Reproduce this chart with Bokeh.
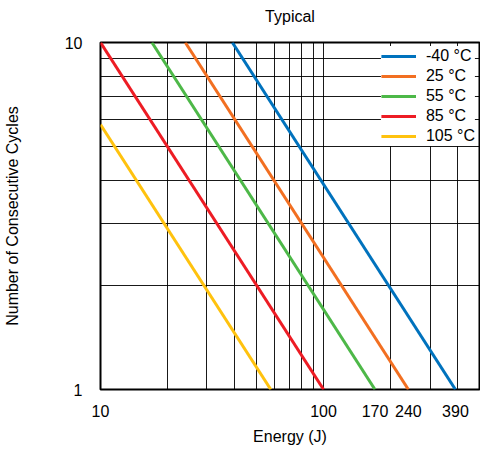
from bokeh.plotting import figure
from bokeh.models import FixedTicker, BasicTickFormatter, Legend, LegendItem, LogAxis
from bokeh.embed import file_html
from bokeh.resources import INLINE

# ---- data ----
title_text = "Typical"
series_names = ["-40 °C", "25 °C", "55 °C", "85 °C", "105 °C"]
series_colors = ["#0072BD", "#F26F21", "#4DB848", "#ED1C24", "#FFC20E"]
energy_m40 = [39, 390]
cycles_m40 = [10, 1]
energy_25 = [24, 240]
cycles_25 = [10, 1]
energy_55 = [17, 170]
cycles_55 = [10, 1]
energy_85 = [10, 100]
cycles_85 = [10, 1]
energy_105 = [10, 58]
cycles_105 = [5.8, 1]

x_tick_labels = [10, 100, 170, 240, 390]
y_tick_labels = [1, 10]
x_grid = [10, 20, 30, 40, 50, 60, 70, 80, 90, 100, 200, 300, 400, 500]
y_grid = [1, 2, 3, 4, 5, 6, 7, 8, 9, 10]

FONT = "Liberation Sans"
FS = "16px"

p = figure(width=480, height=447, x_axis_type="log", y_axis_type="log",
           x_range=(10, 500), y_range=(1, 10),
           output_backend="svg", toolbar_location=None,
           min_border_left=93, min_border_right=1,
           min_border_top=42, min_border_bottom=55)

p.outline_line_color = "#000000"
p.outline_line_width = 2
p.outline_line_alpha = 1.0

# grids
p.xgrid.ticker = FixedTicker(ticks=x_grid)
p.ygrid.ticker = FixedTicker(ticks=y_grid)
for g in (p.xgrid, p.ygrid):
    g.grid_line_color = "#000000"
    g.grid_line_width = 1
    g.grid_line_alpha = 0.9

# axes
xa = p.xaxis[0]
xa.ticker = FixedTicker(ticks=x_tick_labels, minor_ticks=[])
xa.formatter = BasicTickFormatter()
xa.axis_label = "Energy (J)"
ya = p.yaxis[0]
ya.ticker = FixedTicker(ticks=y_tick_labels, minor_ticks=[])
ya.formatter = BasicTickFormatter()
ya.axis_label = "Number of Consecutive Cycles"

# title drawn as the label of a tick-less top axis
ta = LogAxis(ticker=FixedTicker(ticks=[], minor_ticks=[]), axis_label=title_text)
p.add_layout(ta, "above")

for ax in (xa, ya, ta):
    ax.axis_line_color = None
    ax.major_tick_line_color = None
    ax.minor_tick_line_color = None
    ax.major_tick_out = 0
    ax.major_tick_in = 0
    ax.minor_tick_out = 0
    ax.minor_tick_in = 0
    ax.major_label_text_font = FONT
    ax.major_label_text_font_size = FS
    ax.major_label_text_color = "#000000"
    ax.axis_label_text_font = FONT
    ax.axis_label_text_font_size = FS
    ax.axis_label_text_font_style = "normal"
    ax.axis_label_text_color = "#000000"

xa.major_label_standoff = 15
xa.axis_label_standoff = 8
ya.major_label_standoff = 18
ya.axis_label_standoff = 41
ta.major_label_standoff = 0
ta.axis_label_standoff = 18

# lines
data = [(energy_m40, cycles_m40), (energy_25, cycles_25), (energy_55, cycles_55),
        (energy_85, cycles_85), (energy_105, cycles_105)]
items = []
for (xs, ys), name, color in zip(data, series_names, series_colors):
    r = p.line(xs, ys, line_color=color, line_width=3)
    items.append(LegendItem(label=name, renderers=[r]))

legend = Legend(items=items, location="top_right")
legend.label_text_font = FONT
legend.label_text_font_size = FS
legend.label_text_color = "#000000"
legend.glyph_width = 35
legend.glyph_height = 20
legend.label_height = 20
legend.label_standoff = 10
legend.spacing = 0
legend.padding = 6
legend.margin = 4
legend.border_line_color = None
legend.background_fill_color = "#ffffff"
legend.background_fill_alpha = 1.0
p.add_layout(legend)

open("out.html", "w").write(file_html(p, INLINE))
